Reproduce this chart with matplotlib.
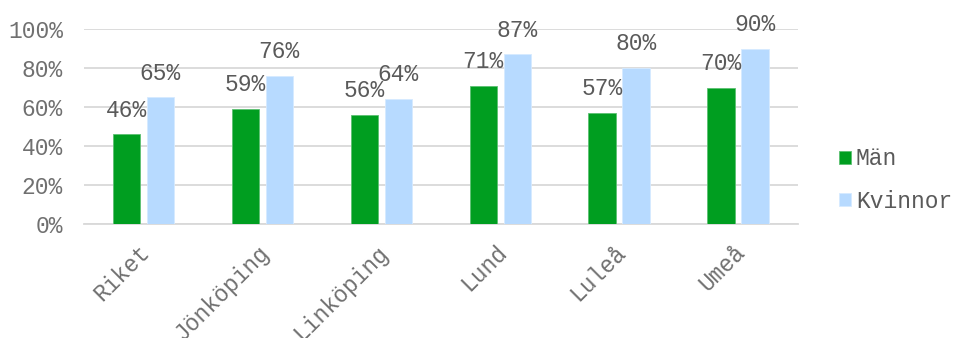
import numpy as np
import matplotlib
matplotlib.use("Agg")
import matplotlib.pyplot as plt
import matplotlib.transforms as mtrans
from matplotlib.ticker import PercentFormatter

# Data
orter = ["Riket", "Jönköping", "Linköping", "Lund", "Luleå", "Umeå"]
man = [46, 59, 56, 71, 57, 70]
kvinnor = [65, 76, 64, 87, 80, 90]

plt.rcParams["font.family"] = ["Liberation Mono", "DejaVu Sans Mono"]

fig = plt.figure(figsize=(9.54, 3.38), dpi=100)
ax = fig.add_axes([0.088, 0.337, 0.748, 0.577])

x = np.arange(len(orter))
w = 0.23
off = 0.143
b1 = ax.bar(x - off, man, w, color="#009E20", edgecolor="#5CC072", linewidth=0.6,
            label="Män", zorder=3)
b2 = ax.bar(x + off, kvinnor, w, color="#B7DAFF", edgecolor="#D6EAFF", linewidth=0.6,
            label="Kvinnor", zorder=3)

# Datavärden ovanför staplarna
for bars, vals in [(b1, man), (b2, kvinnor)]:
    for b, v in zip(bars, vals):
        ax.annotate(f"{v}%", (b.get_x() + b.get_width() / 2, v),
                    xytext=(0, 17.5), textcoords="offset points",
                    ha="center", va="center", fontsize=16.5, color="#5a5a5a")

ax.set_xlim(-0.5, len(orter) - 0.5)
ax.set_ylim(0, 100)
ax.set_yticks(range(0, 101, 20))
ax.yaxis.set_major_formatter(PercentFormatter(decimals=0))
ax.grid(axis="y", color="#D9D9D9", linewidth=1.3, zorder=0)
ax.set_axisbelow(True)

for s in ["top", "right", "left"]:
    ax.spines[s].set_visible(False)
ax.spines["bottom"].set_color("#D9D9D9")
ax.spines["bottom"].set_linewidth(1.3)

ax.set_xticks(x)
ax.set_xticklabels(orter, rotation=45, ha="right", rotation_mode="anchor")
ax.tick_params(axis="both", length=0, labelsize=16.5, colors="#707070")
ax.tick_params(axis="y", pad=15)
ax.tick_params(axis="x", pad=12)

# flytta etiketterna lite åt vänster
shift = mtrans.ScaledTranslation(-5 / 100, 0, fig.dpi_scale_trans)
for lbl in ax.get_xticklabels():
    lbl.set_transform(lbl.get_transform() + shift)

ax.legend(loc="center left", bbox_to_anchor=(839 / 954, 0.467),
          bbox_transform=fig.transFigure, frameon=False, borderpad=0,
          borderaxespad=0, fontsize=16.5, labelcolor="#5a5a5a",
          handlelength=0.52, handleheight=0.52, handletextpad=0.22,
          labelspacing=0.85)

fig.savefig("out.png", dpi=100)
